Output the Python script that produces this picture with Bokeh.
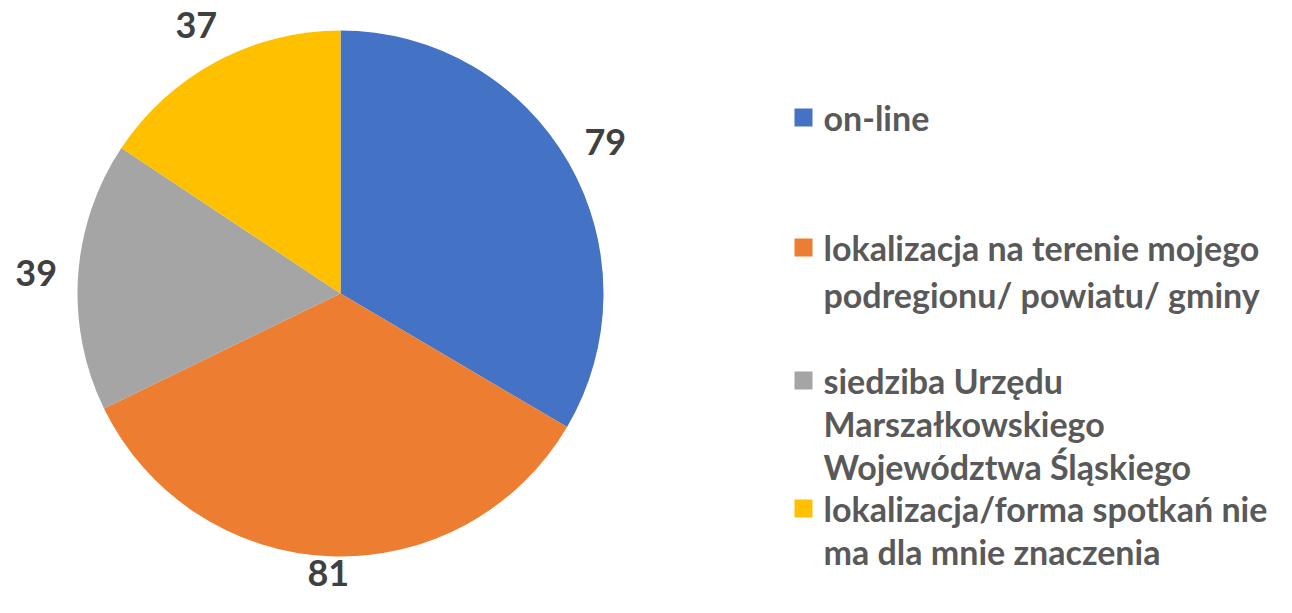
import math
from bokeh.plotting import figure
from bokeh.models import Range1d, ColumnDataSource
from bokeh.core.properties import value
from bokeh.embed import file_html
from bokeh.resources import INLINE

# ---- data ----
categories = [
    "on-line",
    "lokalizacja na terenie mojego podregionu/ powiatu/ gminy",
    "siedziba Urzędu Marszałkowskiego Województwa Śląskiego",
    "lokalizacja/forma spotkań nie ma dla mnie znaczenia",
]
legend_lines = [
    ["on-line"],
    ["lokalizacja na terenie mojego", "podregionu/ powiatu/ gminy"],
    ["siedziba Urzędu", "Marszałkowskiego", "Województwa Śląskiego"],
    ["lokalizacja/forma spotkań nie", "ma dla mnie znaczenia"],
]
values = [79, 81, 39, 37]
colors = ["#4472C4", "#ED7D31", "#A5A5A5", "#FFC000"]

# ---- layout ----
W, H = 1276, 597
CX, CY = 340, H - 293
R = 263
LABEL_R = 305
FONT = "Lato"

p = figure(width=W, height=H, output_backend="svg", toolbar_location=None,
           x_range=Range1d(0, W), y_range=Range1d(0, H), min_border=0)
p.axis.visible = False
p.grid.visible = False
p.outline_line_color = None
p.background_fill_color = "white"

total = sum(values)
starts, ends, lx, ly = [], [], [], []
cum = 0.0
for v in values:
    a0 = math.pi / 2 - 2 * math.pi * cum / total
    a1 = math.pi / 2 - 2 * math.pi * (cum + v) / total
    starts.append(a0)
    ends.append(a1)
    mid = (a0 + a1) / 2
    lx.append(CX + LABEL_R * math.cos(mid))
    ly.append(max(CY + LABEL_R * math.sin(mid), 25))
    cum += v

src = ColumnDataSource(dict(start=starts, end=ends, color=colors,
                            lx=lx, ly=ly, txt=[str(v) for v in values]))
p.wedge(x=CX, y=CY, radius=R, start_angle="start", end_angle="end",
        direction="clock", fill_color="color", line_color=None, source=src)
p.text(x="lx", y="ly", text="txt", source=src, text_font=value(FONT),
       text_font_style="bold", text_font_size="36px", text_color="#404040",
       text_align="center", text_baseline="middle")

# legend
row_tops = [117, 247, 380, 508]  # y of first line center, from top
line_h = [43, 47, 43, 43]
sq_x, txt_x = 803, 823
sx, sy, sc, tx, ty, tt = [], [], [], [], [], []
for i, lines in enumerate(legend_lines):
    y0 = H - row_tops[i]
    sx.append(sq_x); sy.append(y0); sc.append(colors[i])
    for j, ln in enumerate(lines):
        tx.append(txt_x); ty.append(y0 - j * line_h[i]); tt.append(ln)
p.rect(x=sx, y=sy, width=18, height=18, fill_color=sc, line_color=None)
p.text(x=tx, y=ty, text=tt, text_font=value(FONT), text_font_style="bold",
       text_font_size="34px", text_color="#595959", text_align="left",
       text_baseline="middle")

open("out.html", "w").write(file_html(p, INLINE))
